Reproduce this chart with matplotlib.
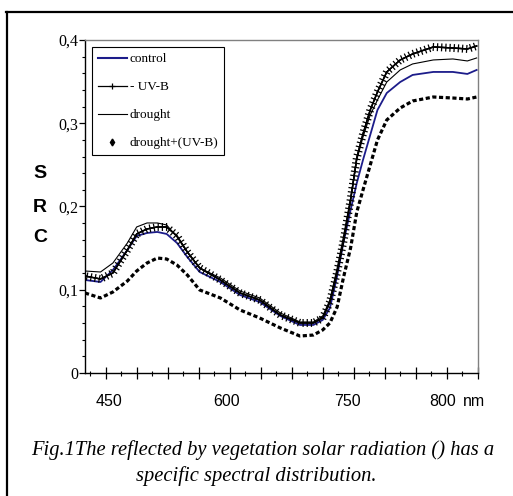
import matplotlib
matplotlib.use("Agg")
import matplotlib.pyplot as plt
import matplotlib.patheffects as pe
from matplotlib.lines import Line2D
from matplotlib.ticker import MultipleLocator, FixedLocator

# ── Data ─────────────────────────────────────────────────────────────────────
wl = [400, 415, 427, 441, 450, 460, 470, 479, 489, 499, 511, 531, 550, 569,
      589, 608, 621, 630, 637, 644, 650, 657, 663, 669, 676, 683, 692, 705,
      717, 737, 756, 770, 779]

control = [0.1117, 0.1093, 0.1237, 0.1477, 0.1646, 0.1682, 0.1694, 0.1670,
           0.1562, 0.1393, 0.1213, 0.1093, 0.0937, 0.0853, 0.0685, 0.0577,
           0.0577, 0.0637, 0.0781, 0.1165, 0.1562, 0.1958, 0.2282, 0.2559,
           0.2859, 0.3159, 0.3363, 0.3495, 0.3580, 0.3616, 0.3616, 0.3592,
           0.3640]

minus_uvb = [0.1165, 0.1129, 0.1201, 0.1477, 0.1670, 0.1730, 0.1754, 0.1754,
             0.1646, 0.1453, 0.1261, 0.1117, 0.0961, 0.0877, 0.0697, 0.0601,
             0.0601, 0.0661, 0.0853, 0.1213, 0.1574, 0.2078, 0.2583, 0.2871,
             0.3159, 0.3375, 0.3616, 0.3760, 0.3832, 0.3916, 0.3904, 0.3892,
             0.3928]

drought = [0.1225, 0.1213, 0.1321, 0.1562, 0.1754, 0.1802, 0.1802, 0.1778,
           0.1634, 0.1453, 0.1261, 0.1141, 0.0985, 0.0901, 0.0721, 0.0613,
           0.0613, 0.0685, 0.0877, 0.1261, 0.1634, 0.2102, 0.2559, 0.2835,
           0.3099, 0.3279, 0.3495, 0.3640, 0.3712, 0.3760, 0.3772, 0.3748,
           0.3784]

drought_uvb = [0.0961, 0.0901, 0.0973, 0.1105, 0.1225, 0.1321, 0.1381, 0.1369,
               0.1297, 0.1177, 0.0997, 0.0901, 0.0757, 0.0661, 0.0541, 0.0444,
               0.0456, 0.0517, 0.0601, 0.0793, 0.1141, 0.1502, 0.1934, 0.2198,
               0.2498, 0.2799, 0.3039, 0.3183, 0.3267, 0.3315, 0.3303, 0.3291,
               0.3315]

y_ticks = [0, 0.1, 0.2, 0.3, 0.4]
y_ticklabels = ["0", "0,1", "0,2", "0,3", "0,4"]
x_labels = ["450", "600", "750", "800", "nm"]
x_label_pos = [423, 536.5, 654, 746, 776.5]
legend_labels = ["control", "- UV-B", "drought", "drought+(UV-B)"]

BLUE = "#1c1c8a"
SERIF = "Liberation Serif"
SANS = "Liberation Sans"

# ── Figure ───────────────────────────────────────────────────────────────────
fig = plt.figure(figsize=(5.13, 4.96), dpi=100)
ax = fig.add_axes([0.1657, 0.2480, 0.7661, 0.6714])

ax.plot(wl, drought_uvb, color="black", lw=2.3, dashes=(1.3, 0.8))
ax.plot(wl, drought, color="black", lw=0.8)
ax.plot(wl, control, color=BLUE, lw=1.3)
ax.plot(wl, minus_uvb, color="black", lw=1.0,
        path_effects=[pe.Normal(),
                      pe.withTickedStroke(angle=90, spacing=3, length=0.8, linewidth=0.9),
                      pe.withTickedStroke(angle=-90, spacing=3, length=0.8, linewidth=0.9)])

ax.set_xlim(400, 780.3)
ax.set_ylim(0, 0.4)

ax.xaxis.set_major_locator(MultipleLocator(30))
ax.xaxis.set_minor_locator(MultipleLocator(15))
ax.tick_params(axis="x", which="major", direction="inout", length=8.5, width=0.9,
               labelbottom=False)
ax.tick_params(axis="x", which="minor", direction="inout", length=3.6, width=0.8)

ax.yaxis.set_major_locator(FixedLocator(y_ticks))
ax.yaxis.set_minor_locator(MultipleLocator(0.02))
ax.set_yticklabels(y_ticklabels, fontfamily=SERIF, fontsize=11.5)
ax.tick_params(axis="y", which="major", direction="out", length=4, width=0.9, pad=1)
ax.tick_params(axis="y", which="minor", direction="out", length=2.5, width=0.8)

for side in ("top", "right"):
    ax.spines[side].set_color("#808080")
    ax.spines[side].set_linewidth(1.0)
for side in ("left", "bottom"):
    ax.spines[side].set_color("black")
    ax.spines[side].set_linewidth(1.0)

# x tick labels sit off the tick marks in the original
trans = ax.get_xaxis_transform()
for pos, lab in zip(x_label_pos, x_labels):
    ax.text(pos, -0.087, lab, transform=trans, ha="center", va="center",
            fontfamily=SANS, fontsize=11.5)

# stacked y-label
for ypx, ch in zip([174, 207, 238], ["S", "R", "C"]):
    fig.text(40 / 513, 1 - ypx / 496, ch, ha="center", va="center",
             fontfamily=SANS, fontweight="bold", fontsize=14)

# legend
handles = [
    Line2D([], [], color=BLUE, lw=1.5),
    Line2D([], [], color="black", lw=0.9, marker="+", ms=5, mew=0.9),
    Line2D([], [], color="black", lw=0.8),
    Line2D([], [], ls="none", color="black", marker="d", ms=3.5),
]
leg = ax.legend(handles, legend_labels, loc="upper left",
                bbox_to_anchor=(0.0178, 0.979), borderaxespad=0,
                prop={"family": SERIF, "size": 9.5}, frameon=True,
                fancybox=False, framealpha=1, edgecolor="black",
                handlelength=2.2, handletextpad=0.2, labelspacing=1.2,
                borderpad=0.45, numpoints=1)
leg.get_frame().set_linewidth(0.8)

# caption
fig.text(263 / 513, 1 - 450 / 496,
         "Fig.1The reflected by vegetation solar radiation () has a",
         ha="center", va="center", fontfamily=SERIF, style="italic", fontsize=14.8)
fig.text(256 / 513, 1 - 476 / 496, "specific spectral distribution.",
         ha="center", va="center", fontfamily=SERIF, style="italic", fontsize=14.8)

# page border (left and top)
fig.add_artist(Line2D([6.5 / 513, 6.5 / 513], [0, 1 - 11.5 / 496],
                      transform=fig.transFigure, color="black", lw=1.6))
fig.add_artist(Line2D([5.7 / 513, 1], [1 - 11.5 / 496, 1 - 11.5 / 496],
                      transform=fig.transFigure, color="black", lw=1.6))

fig.savefig("out.png", dpi=100)
